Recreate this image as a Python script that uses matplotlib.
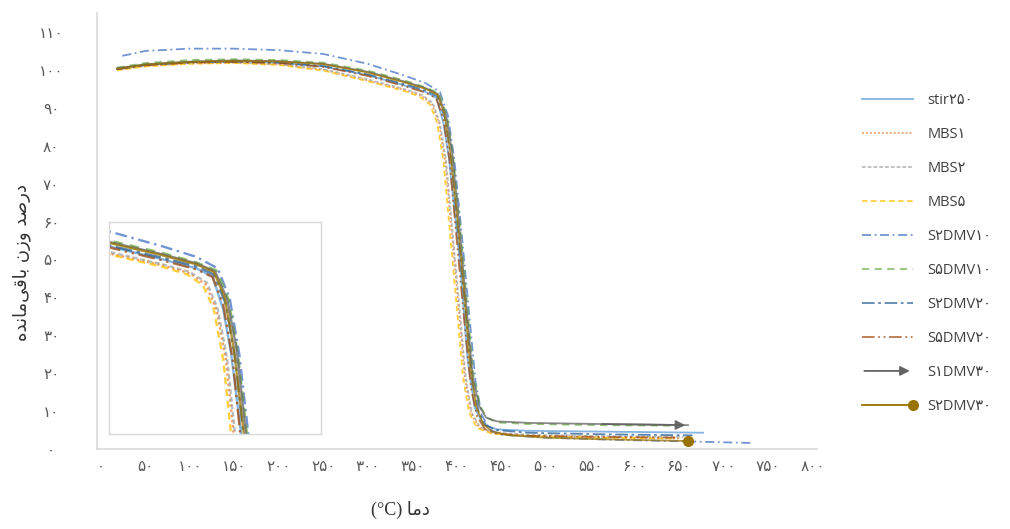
import matplotlib
matplotlib.use("Agg")
import matplotlib.pyplot as plt
from matplotlib.lines import Line2D
from matplotlib.patches import FancyArrowPatch
from matplotlib.legend_handler import HandlerBase

# ---------------- data (temperature in °C, residual weight in %) ----------------
t_stir250 = [18, 50, 100, 150, 200, 250, 300, 340, 365, 377, 385, 391, 397, 404, 412, 420, 430, 445, 480, 560, 677]
w_stir250 = [100.3, 101.3, 102.0, 102.2, 101.9, 100.9, 98.6, 96.0, 94.2, 92.6, 86, 77, 64, 48, 24, 11, 6.4, 5.2, 4.8, 4.6, 4.3]

t_mbs1 = [18, 50, 100, 150, 200, 250, 300, 340, 360, 372, 380, 387, 394, 401, 409, 416, 425, 440, 480, 560, 650]
w_mbs1 = [100.0, 101.0, 101.7, 101.9, 101.4, 100.0, 97.2, 94.8, 93.2, 91.0, 86, 76, 58, 40, 19, 9.5, 5.6, 4.2, 3.5, 3.1, 2.8]

t_mbs2 = [18, 50, 100, 150, 200, 250, 300, 340, 360, 373, 381, 388, 395, 402, 410, 417, 426, 440, 480, 560, 655]
w_mbs2 = [100.1, 101.2, 102.0, 102.0, 101.5, 100.2, 97.5, 95.0, 93.5, 91.3, 86, 76, 58, 40, 19, 9.5, 5.8, 4.4, 3.8, 3.4, 3.2]

t_mbs5 = [18, 50, 100, 150, 200, 250, 300, 340, 358, 370, 378, 385, 392, 399, 407, 414, 423, 440, 480, 560, 645]
w_mbs5 = [99.9, 100.9, 101.6, 101.8, 101.3, 99.8, 97.0, 94.5, 93.0, 90.8, 86, 76, 58, 40, 19, 9.5, 5.5, 4.0, 3.4, 3.0, 2.8]

t_s2dmv10 = [24, 50, 100, 150, 200, 250, 300, 340, 365, 381, 390, 397, 405, 413, 421, 428, 437, 450, 500, 580, 660, 730]
w_s2dmv10 = [103.7, 105.0, 105.6, 105.6, 105.2, 104.2, 101.6, 98.6, 96.5, 94.2, 88, 77, 58, 38, 18, 9, 5.2, 3.8, 3.0, 2.4, 2.0, 1.6]

t_s5dmv10 = [18, 50, 100, 150, 200, 250, 300, 340, 365, 380, 389, 396, 404, 411, 419, 426, 434, 445, 480, 560, 660]
w_s5dmv10 = [100.6, 101.8, 102.6, 102.8, 102.6, 101.9, 99.8, 97.3, 95.4, 93.8, 88, 77, 58, 40, 19, 11.5, 8.2, 7.0, 6.6, 6.3, 6.1]

t_s2dmv20 = [18, 50, 100, 150, 200, 250, 300, 340, 365, 378, 387, 394, 402, 410, 418, 425, 433, 445, 480, 560, 665]
w_s2dmv20 = [100.2, 101.3, 102.0, 102.2, 101.9, 101.0, 98.8, 96.3, 94.6, 93.0, 87, 76, 56, 36, 17, 9.5, 6.2, 5.0, 4.3, 3.9, 3.6]

t_s5dmv20 = [18, 50, 100, 150, 200, 250, 300, 340, 365, 377, 385, 392, 400, 408, 416, 423, 432, 445, 480, 560, 650]
w_s5dmv20 = [100.2, 101.2, 101.9, 102.1, 101.8, 100.8, 98.4, 95.8, 94.0, 92.5, 87, 76, 55, 35, 16, 8.5, 5.2, 4.0, 3.5, 3.2, 3.0]

t_s1dmv30 = [18, 50, 100, 150, 200, 250, 300, 340, 365, 379, 388, 395, 402, 410, 418, 425, 433, 445, 480, 560, 660]
w_s1dmv30 = [100.4, 101.5, 102.2, 102.5, 102.3, 101.6, 99.5, 97.0, 95.2, 93.6, 88, 78, 61, 40, 19, 11.5, 8.3, 7.3, 6.9, 6.6, 6.3]

t_s2dmv30 = [18, 50, 100, 150, 200, 250, 300, 340, 365, 378, 386, 393, 400, 408, 415, 422, 430, 440, 460, 500, 560, 620, 660]
w_s2dmv30 = [100.3, 101.4, 102.1, 102.4, 102.2, 101.5, 99.3, 96.8, 95.0, 93.5, 88.5, 78, 62, 42, 22, 11, 6.5, 4.6, 3.6, 3.0, 2.6, 2.3, 2.1]

series_labels = ["stir۲۵۰", "MBS۱", "MBS۲", "MBS۵", "S۲DMV۱۰", "S۵DMV۱۰",
                 "S۲DMV۲۰", "S۵DMV۲۰", "S۱DMV۳۰", "S۲DMV۳۰"]
x_ticks = list(range(0, 801, 50))
y_ticks = list(range(0, 111, 10))
x_title = "(°C) ﺎﻣﺩ"                     # دما (°C), visual order
y_title = "ﻩﺪﻧﺎﻣﻰﻗﺎﺑ ﻥﺯﻭ ﺪﺻﺭﺩ"          # درصد وزن باقی‌مانده, visual order

# ---------------- styles ----------------
temps = [t_stir250, t_mbs1, t_mbs2, t_mbs5, t_s2dmv10, t_s5dmv10, t_s2dmv20, t_s5dmv20, t_s1dmv30, t_s2dmv30]
weights = [w_stir250, w_mbs1, w_mbs2, w_mbs5, w_s2dmv10, w_s5dmv10, w_s2dmv20, w_s5dmv20, w_s1dmv30, w_s2dmv30]
colors = ["#5B9BD5", "#ED7D31", "#A5A5A5", "#FFC000", "#4472C4", "#70AD47",
          "#255E91", "#9E480E", "#636363", "#997300"]
styles = ["-", (0, (1, 1.2)), (0, (2, 1.2)), (0, (3, 2)), (0, (5, 2, 1, 2)), (0, (4, 3)),
          (0, (7, 2, 1.5, 2)), (0, (7, 2, 1, 2, 1, 2)), "-", "-"]
ALPHA = 0.75
LW = 1.3

fa = str.maketrans("0123456789", "۰۱۲۳۴۵۶۷۸۹")

fig = plt.figure(figsize=(10.10, 5.29), dpi=100)
ax = fig.add_axes([0.0960, 0.1512, 0.7129, 0.8242])

handles = []
for t, w, c, ls, lab in zip(temps, weights, colors, styles, series_labels):
    ln, = ax.plot(t, w, color=c, ls=ls, lw=LW, alpha=ALPHA, label=lab)
    handles.append(ln)

# arrow at end of S1DMV30
ax.annotate("", xy=(t_s1dmv30[-1], w_s1dmv30[-1]), xytext=(t_s1dmv30[-2], w_s1dmv30[-2]),
            arrowprops=dict(arrowstyle="-|>", color=colors[8], lw=LW, mutation_scale=14, alpha=0.9))
# marker at end of S2DMV30
ax.plot([t_s2dmv30[-1]], [w_s2dmv30[-1]], marker="o", ms=7, color=colors[9], ls="none")

ax.set_xlim(-4.5, 805)
ax.set_ylim(0, 115)
ax.set_xticks(x_ticks)
ax.set_xticklabels([str(v).translate(fa) for v in x_ticks])
ax.set_yticks(y_ticks)
ax.set_yticklabels([str(v).translate(fa) for v in y_ticks])
ax.tick_params(length=0, labelsize=11, labelcolor="#595959")
ax.tick_params(axis="x", pad=7)
ax.tick_params(axis="y", pad=33)
for lb in ax.get_yticklabels():
    lb.set_horizontalalignment("center")
for s in ["top", "right"]:
    ax.spines[s].set_visible(False)
for s in ["left", "bottom"]:
    ax.spines[s].set_color("#D9D9D9")
    ax.spines[s].set_linewidth(1.2)

# inset: magnified view of the decomposition onset
axin = fig.add_axes([0.108, 0.1796, 0.210, 0.4008])
for t, w, c, ls in zip(temps, weights, colors, styles):
    axin.plot(t, w, color=c, ls=ls, lw=LW + 0.4, alpha=ALPHA)
axin.set_xlim(300, 458)
axin.set_ylim(61, 103.5)
axin.set_xticks([])
axin.set_yticks([])
for s in axin.spines.values():
    s.set_color("#D9D9D9")
    s.set_linewidth(1.0)


# legend handlers
class ArrowHandler(HandlerBase):
    def create_artists(self, legend, orig_handle, xdescent, ydescent, width, height, fontsize, trans):
        y = (height - ydescent) / 2
        a = FancyArrowPatch((-xdescent, y), (-xdescent + width, y), arrowstyle="-|>",
                            mutation_scale=14, color=orig_handle.get_color(), lw=LW, transform=trans)
        return [a]


class EndMarkerHandler(HandlerBase):
    def create_artists(self, legend, orig_handle, xdescent, ydescent, width, height, fontsize, trans):
        y = (height - ydescent) / 2
        l1 = Line2D([-xdescent, -xdescent + width], [y, y], color=orig_handle.get_color(), lw=LW, transform=trans)
        m = Line2D([-xdescent + width], [y], marker="o", ms=7, color=orig_handle.get_color(), transform=trans)
        return [l1, m]


leg = ax.legend(handles=handles, labels=series_labels, loc="upper left",
                bbox_to_anchor=(0.853, 0.8235), bbox_transform=fig.transFigure,
                frameon=False, labelspacing=1.30, handlelength=3.5,
                handletextpad=1.0, borderpad=0, borderaxespad=0,
                handler_map={handles[8]: ArrowHandler(), handles[9]: EndMarkerHandler()},
                prop={"family": ["Open Sans", "DejaVu Sans"], "size": 10.5})
for txt in leg.get_texts():
    txt.set_color("#404040")

fig.text(22 / 1010, 1 - 262 / 529, y_title, rotation=90, ha="center", va="center",
         fontsize=13, color="#333333", family="DejaVu Sans")
fig.text(400 / 1010, 1 - 510 / 529, x_title, ha="center", va="center",
         fontsize=13, color="#333333", family=["Liberation Serif", "DejaVu Sans"])

fig.savefig("out.png", dpi=100)
